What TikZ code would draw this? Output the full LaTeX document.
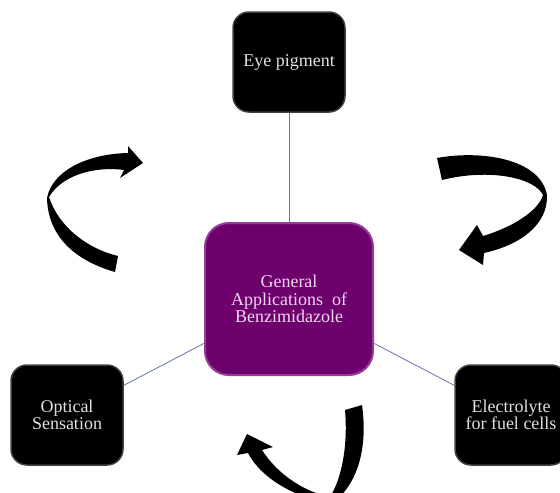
\documentclass[tikz,border=0pt]{standalone}
\usepackage{fontspec}
\setmainfont{Liberation Serif}
\definecolor{hubfill}{RGB}{110,0,110}
\definecolor{hubedge}{RGB}{150,60,150}
\definecolor{hubtext}{RGB}{240,215,240}
\definecolor{linkcol}{RGB}{100,115,170}
\begin{document}
\begin{tikzpicture}[x=1pt, y=-1pt,
  every node/.style={font=\fontsize{18}{17.5}\selectfont, align=center, inner sep=0pt},
  leaf/.style={fill=black, draw=black!75, line width=1.5pt, rounded corners=16pt, minimum width=112pt, minimum height=100pt, text=white!88!black},
  hub/.style={fill=hubfill, draw=hubedge, line width=2pt, rounded corners=24pt, minimum width=168pt, minimum height=152pt, text=hubtext},
  link/.style={draw=linkcol, line width=0.8pt},
  ribbon/.style={fill=black}]
  \clip (0,0) rectangle (560,493);
  % boxes
  \node[hub] (core) at (289,299) {General\\Applications~~of\\Benzimidazole};
  \node[leaf] (eye) at (289,62) {Eye pigment};
  \node[leaf] (optic) at (67,415) {Optical\\Sensation};
  \node[leaf] (fuel) at (511,415) {Electrolyte\\for fuel cells};
  \draw[link] (eye) -- (core);
  \draw[link] (optic) -- (core);
  \draw[link] (core) -- (fuel);
  % curved arrows
  \fill[ribbon] (115,272) .. controls (80,262) and (48,240) .. (47,198)
    .. controls (52,172) and (85,154) .. (128,153) -- (128,146) -- (143,163) -- (120,178) -- (124,170)
    .. controls (95,166) and (62,175) .. (49,197)
    .. controls (58,225) and (85,248) .. (118,256) -- cycle;
  \fill[ribbon] (437,158) .. controls (480,150) and (540,158) .. (547,195)
    .. controls (548,225) and (520,245) .. (484,253) -- (483,265) -- (459,250) -- (477,225) -- (483,236)
    .. controls (510,228) and (538,212) .. (543,195)
    .. controls (535,178) and (490,168) .. (442,180) -- cycle;
  \fill[ribbon] (345,410) -- (362,405) .. controls (367,440) and (362,480) .. (333,503)
    .. controls (300,500) and (262,480) .. (248,453) -- (237,455) -- (247,434) -- (273,447) -- (262,450)
    .. controls (278,475) and (305,492) .. (330,497)
    .. controls (342,478) and (348,445) .. (345,410) -- cycle;
\end{tikzpicture}
\end{document}
